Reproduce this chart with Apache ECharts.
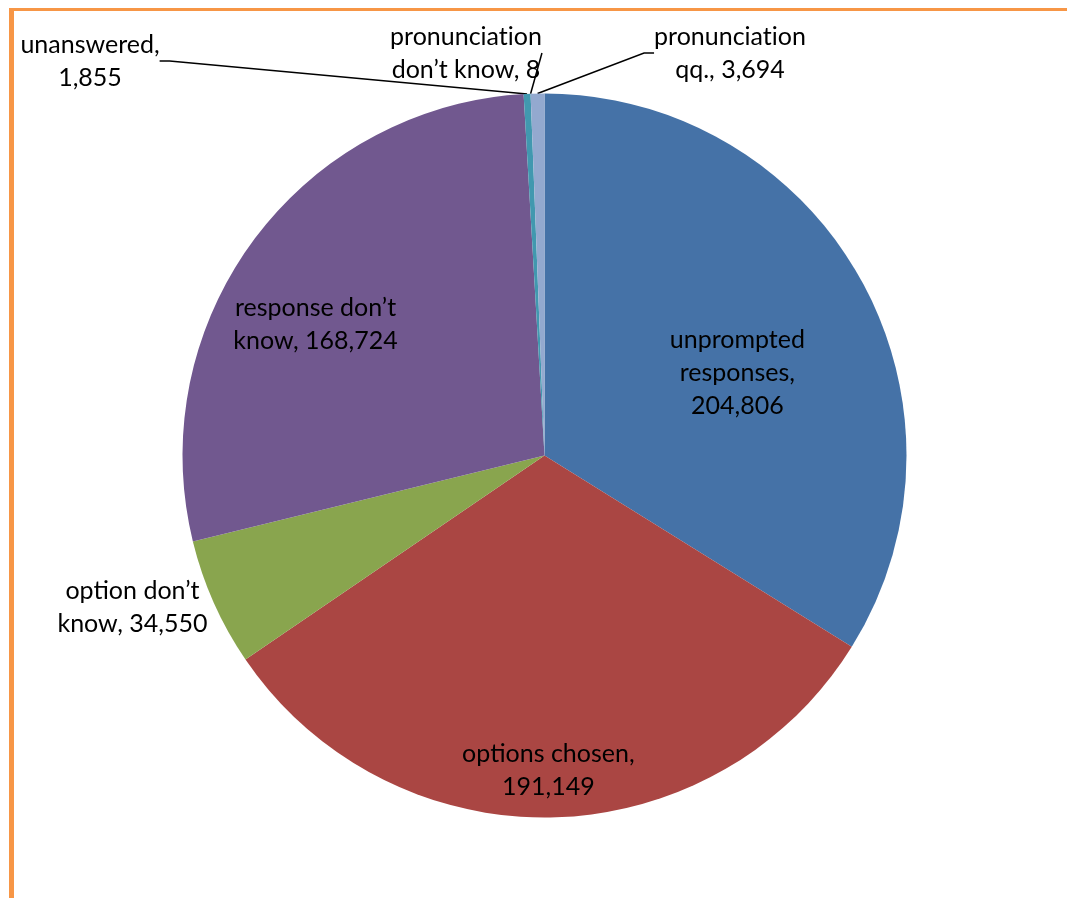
<!DOCTYPE html>
<html><head><meta charset="utf-8">
<script src="https://cdn.jsdelivr.net/npm/echarts@6/dist/echarts.min.js"></script>
<style>
html,body{margin:0;padding:0;background:#fff;}
#frame{position:absolute;left:9px;top:8px;width:1100px;height:1000px;border-top:3px solid #F79646;border-left:5px solid #F79646;box-sizing:border-box;}
#chart{position:absolute;left:0;top:0;width:1067px;height:898px;}
</style></head>
<body>
<div id="frame"></div>
<div id="chart"></div>
<script>
const categories = ['unprompted responses','options chosen','option don’t know','response don’t know','unanswered','pronunciation don’t know','pronunciation qq.'];
const values = [204806, 191149, 34550, 168724, 1855, 8, 3694];
const labelNames = ['unprompted\nresponses','options chosen','option don’t\nknow','response don’t\nknow','unanswered','pronunciat\u200Cion\ndon’t know','pronunciat\u200Cion\nqq.'];
const labelSeps = ['\n','\n',' ',' ','\n',' ',' '];
const colors = ['#4572A7','#AA4643','#89A54E','#71588F','#4198AF','#DB843D','#93A9CF'];
// label placement tweaks (pixels)
const insideOffsets = {0:[32,7],1:[0,131],2:[-244,77],3:[-81,-22]};
const outsidePos = {4:[90,61],5:[466,53],6:[730,53]};

const fmt = v => v.toLocaleString('en-US');
const data = categories.map((c,i)=>{
  const outside = outsidePos[i] !== undefined;
  return {
    name: c, value: values[i],
    itemStyle: {color: colors[i]},
    label: {position: outside ? 'outside' : 'inside'},
    labelLine: {show: outside}
  };
});

const chart = echarts.init(document.getElementById('chart'));
chart.setOption({
  animation:false,
  series:[{
    type:'pie',
    center:[544.5,455.5],
    radius:[0,362],
    startAngle:90,
    clockwise:true,
    avoidLabelOverlap:false,
    data:data,
    itemStyle:{borderWidth:0},
    label:{
      show:true,
      color:'#000',
      fontFamily:'Lato',
      fontSize:25,
      lineHeight:33,
      align:'center',
      formatter:p=>labelNames[p.dataIndex]+','+labelSeps[p.dataIndex]+fmt(p.value)
    },
    labelLine:{lineStyle:{color:'#000',width:1.5},length:10,length2:10,smooth:false},
    labelLayout:function(p){
      const i=p.dataIndex;
      if(insideOffsets[i]) return {dx:insideOffsets[i][0],dy:insideOffsets[i][1]};
      if(outsidePos[i]) return {x:outsidePos[i][0],y:outsidePos[i][1],align:'center',verticalAlign:'middle'};
      return {};
    }
  }]
});
</script>
</body></html>
